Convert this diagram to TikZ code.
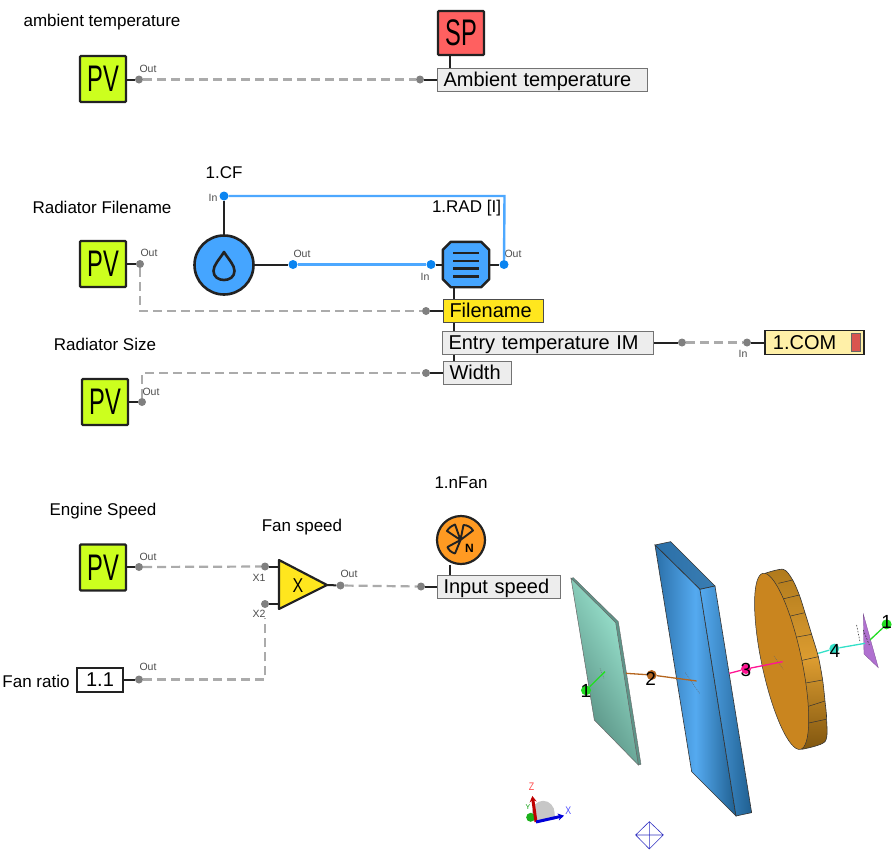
\documentclass[tikz,border=0pt]{standalone}
\usepackage{fontspec}
\setmainfont{Liberation Sans}
\usetikzlibrary{shapes.geometric,arrows.meta}
\definecolor{limeF}{HTML}{CCFF1E}
\definecolor{redF}{HTML}{FF6060}
\definecolor{blueF}{HTML}{45A5FF}
\definecolor{yellowF}{HTML}{FFE61E}
\definecolor{orangeF}{HTML}{FF9A22}
\definecolor{comF}{HTML}{FFF0A8}
\definecolor{comR}{HTML}{D9554F}
\definecolor{ink}{HTML}{222222}
\definecolor{dashG}{HTML}{ABABAB}
\definecolor{portG}{HTML}{808080}
\definecolor{portB}{HTML}{0A84F0}
\definecolor{lineB}{HTML}{4DA8FF}
\definecolor{tealD}{HTML}{4F8579}
\definecolor{tealL}{HTML}{A4F0DA}
\definecolor{tealE}{HTML}{5E9488}
\definecolor{blueD}{HTML}{1F5F90}
\definecolor{blueM}{HTML}{55AAF0}
\definecolor{blueA}{HTML}{2A6FA8}
\definecolor{blueT}{HTML}{3A7DB2}
\definecolor{discF}{HTML}{C9851F}
\definecolor{rimA}{HTML}{B07A1C}
\definecolor{rimB}{HTML}{DC9C30}
\definecolor{rimC}{HTML}{80560F}
\definecolor{jBrown}{HTML}{B5651D}
\definecolor{jPink}{HTML}{FF1493}
\definecolor{jCyan}{HTML}{33E0C8}
\definecolor{jGreen}{HTML}{22DD22}
\definecolor{purp}{HTML}{B070D0}
\newcommand{\fs}[1]{\fontsize{#1}{#1}\selectfont}
\newcommand{\tall}[1]{\scalebox{0.64}[1]{\fs{37}#1}}
\tikzset{
 x=1pt,y=-1pt,
 pvbox/.style={draw=ink,line width=2.4pt,fill=limeF,rounded corners=1pt,minimum width=46pt,minimum height=46pt,inner sep=0pt},
 spbox/.style={pvbox,fill=redF,minimum height=44pt},
 param/.style={draw=black!55,line width=1pt,fill=#1,anchor=west,minimum height=23pt,inner xsep=6pt,inner ysep=0pt,align=left,font=\fs{20},text height=17pt,text depth=4pt},
 port/.style={circle,fill=portG,minimum size=8pt,inner sep=0pt},
 bport/.style={circle,fill=portB,minimum size=9pt,inner sep=0pt},
 stub/.style={draw=ink,line width=2pt},
 sig/.style={draw=dashG,line width=2.2pt,dash pattern=on 9pt off 5pt},
 flow/.style={draw=lineB,line width=2.4pt},
 lbl/.style={font=\fs{17},text=black,inner sep=0pt},
 plbl/.style={font=\fs{10.5},text=black!70,inner sep=0pt},
 ball/.style={circle,minimum size=#1,inner sep=0pt},
 num/.style={font=\fs{19},text=black,inner sep=0pt},
}
\begin{document}
\begin{tikzpicture}
\useasboundingbox (0,0) rectangle (894,849);
% ---------- row 1
\node[lbl] (t1) at (102,22) {ambient temperature};
\node[pvbox] (pv1) at (103,79) {\tall{PV}};
\node[spbox] (sp) at (461,33) {\tall{SP}};
\node[param={black!7},text width=198pt] (amb) at (437,79.5) {Ambient temperature};
\node[port] (p1o) at (139,79.5) {};
\node[port] (p1i) at (420,79.5) {};
\node[plbl] (l1o) at (148,69) {Out};
\draw[stub] (pv1.east |- p1o) -- (p1o);
\draw[stub] (p1i) -- (amb.west);
\draw[stub] ([xshift=-11pt]sp.south) -- ([xshift=-11pt]sp.south |- amb.north);
\draw[sig] (p1o) -- (p1i);
% ---------- row 2
\node[lbl] (tcf) at (224,173) {1.CF};
\node[lbl] (t2) at (102,207) {Radiator Filename};
\node[lbl] (t3) at (105,344) {Radiator Size};
\node[lbl] (trad) at (466.5,208) {1.RAD [I]};
\node[pvbox] (pv2) at (103,264) {\tall{PV}};
\node[pvbox] (pv3) at (105,402) {\tall{PV}};
\node[circle,draw=ink,line width=2.6pt,fill=blueF,minimum size=59pt,inner sep=0pt] (cf) at (224,265) {};
\draw[ink,line width=2.6pt,line join=round] (224,252) .. controls (219,260) and (213.5,265) .. (213.5,271) .. controls (213.5,283) and (234.5,283) .. (234.5,271) .. controls (234.5,265) and (229,260) .. (224,252) -- cycle;
\node[minimum width=46pt,minimum height=45pt,inner sep=0pt] (rad) at (466,264.5) {};
\draw[draw=ink,line width=2.4pt,fill=blueF,line join=round] ([xshift=8pt]rad.north west) -- ([xshift=-8pt]rad.north east) -- ([yshift=-8pt]rad.north east) -- ([yshift=8pt]rad.south east) -- ([xshift=-8pt]rad.south east) -- ([xshift=8pt]rad.south west) -- ([yshift=8pt]rad.south west) -- ([yshift=-8pt]rad.north west) -- cycle;
\foreach \yy in {253,261,268.5,276.5}{\draw[ink,line width=2.2pt] (453,\yy) -- (478.5,\yy);}
\node[param=yellowF,text width=88pt,draw=black!70] (fn) at (443,311) {Filename};
\node[param={black!7},text width=199pt] (entry) at (442,342.5) {Entry temperature IM};
\node[param={black!7},text width=56pt] (width) at (443,373) {Width};
\draw[stub] ([xshift=-12pt]rad.south) -- ([xshift=11pt]fn.north west);
\draw[stub] ([xshift=11pt]fn.south west) -- ([xshift=12pt]entry.north west);
\draw[stub] ([xshift=12pt]entry.south west) -- ([xshift=11pt]width.north west);
\node[bport] (cfin) at (224,196) {};
\node[bport] (cfout) at (293,264.5) {};
\node[bport] (radin) at (431,264.5) {};
\node[bport] (radout) at (504,264.5) {};
\node[plbl] (lcfin) at (213,198) {In};
\node[plbl] (lcfout) at (302,254) {Out};
\node[plbl] (lradin) at (425,277) {In};
\node[plbl] (lradout) at (513,254) {Out};
\draw[stub] (cfin) -- (cf.north);
\draw[stub] (cf.east |- cfout) -- (cfout);
\draw[stub] (radin) -- (rad.west);
\draw[stub] (rad.east) -- (radout);
\draw[flow] (cfout) -- (radin);
\coordinate (corner) at (504.5,196);
\draw[flow] (cfin) -- (corner) -- (radout);
\node[port] (p2o) at (140,264) {};
\node[port] (p2i) at (426,311) {};
\node[plbl] (l2o) at (149,253) {Out};
\draw[stub] (pv2.east) -- (p2o);
\draw[stub] (p2i) -- (fn.west);
\draw[sig] (p2o) |- (p2i);
\node[port] (p3o) at (142,402) {};
\node[port] (p3i) at (426,373) {};
\node[plbl] (l3o) at (151,392) {Out};
\draw[stub] (pv3.east) -- (p3o);
\draw[stub] (p3i) -- (width.west);
\draw[sig] (p3o) |- (p3i);
% COM
\node[draw=ink,line width=1.8pt,fill=comF,anchor=west,minimum width=99pt,minimum height=24pt,inner xsep=8pt,inner ysep=0pt,text width=83pt,align=left,font=\fs{20},text height=17pt,text depth=4pt] (com) at (764,342.5) {1.COM};
\fill[fill=comR,draw=black!60] (851,333) rectangle (860,351.5);
\node[port] (pe1) at (682,342.5) {};
\node[port] (pe2) at (747,342.5) {};
\node[plbl] (lpe) at (743,354) {In};
\draw[stub] (entry.east) -- (pe1);
\draw[stub] (pe2) -- (com.west);
\draw[sig] (pe1) -- (pe2);
% ---------- row 3
\node[lbl] (tn) at (461,483) {1.nFan};
\node[lbl] (t4) at (103,511) {Engine Speed};
\node[lbl] (t5) at (302,527) {Fan speed};
\node[lbl] (t6) at (36,681) {Fan ratio};
\node[pvbox] (pv4) at (103,567.5) {\tall{PV}};
\node[draw=ink,line width=2pt,fill=white,minimum width=46pt,minimum height=24pt,inner sep=0pt,font=\fs{20}] (ratio) at (100,679.5) {1.1};
\coordinate (tria) at (279,560);
\coordinate (trib) at (279,609);
\coordinate (tric) at (327,585);
\draw[ink,line width=2.2pt,fill=yellowF,line join=round] (tria) -- (trib) -- (tric) -- cycle;
\node[inner sep=0pt,font=\fs{20}] (xg) at (298,586) {\scalebox{.8}[1]{X}};
\node[circle,draw=ink,line width=2.2pt,fill=orangeF,minimum size=48pt,inner sep=0pt] (fan) at (461,540) {};
\draw[ink,line width=1.9pt,line join=round] (460.5,540) -- (447,531) .. controls (449,527.5) and (451.5,526) .. (455,524.5) -- cycle (460.5,540) -- (463.5,525) .. controls (467,525) and (471,527) .. (473,530.5) -- cycle (460.5,540) -- (447.5,547) .. controls (448.5,550) and (451.5,552.5) .. (455,553.5) -- cycle;
\node[inner sep=0pt,font=\fs{12}\bfseries] (fann) at (469.5,548.5) {N};
\node[param={black!7},text width=111pt] (inp) at (437,586.5) {Input speed};
\draw[stub] ([xshift=-11pt]fan.south) -- ([xshift=-11pt]fan.south |- inp.north);
\node[port] (p4o) at (139,567) {};
\node[port] (px1) at (265,566.5) {};
\node[port] (px2) at (265,604) {};
\node[port] (pxo) at (340.5,585.5) {};
\node[port] (pni) at (421,586.5) {};
\node[port] (pro) at (139,679.5) {};
\node[plbl] (l4o) at (148,557) {Out};
\node[plbl] (lx1) at (259,578) {X1};
\node[plbl] (lx2) at (259,614) {X2};
\node[plbl] (lxo) at (349,574) {Out};
\node[plbl] (lro) at (148,667) {Out};
\draw[stub] (pv4.east |- p4o) -- (p4o);
\draw[stub] (ratio.east) -- (pro);
\draw[stub] (px1) -- (px1 -| tria);
\draw[stub] (px2) -- (px2 -| tria);
\draw[stub] (tric) -- (pxo);
\draw[stub] (pni) -- (inp.west);
\draw[sig] (p4o) -- (px1);
\draw[sig] (pxo) -- (pni);
\coordinate (turn) at (265,679.5);
\draw[sig] (pro) -- (turn) -- (lx2.south -| turn);
% ---------- 3D view (coordinates in a 3x grid)
\begin{scope}[shift={(500,530)},x=.3333pt,y=-.3333pt]
 % teal plate
 \fill[draw=black!60,line width=.4pt,fill=tealE] (213,145) -- (220,143) -- (355,275) -- (423,703) -- (415,705) -- (345,280) -- cycle;
 \path[left color=tealD,right color=tealL,shading angle=120,draw=black!60,line width=.5pt] (213,145) -- (347,278) -- (415,705) -- (283,570) -- cycle;
 % blue block
 \path[left color=blueA,right color=blueT,draw=black!80,line width=.6pt] (465,45) -- (512,35) -- (645,168) -- (600,178) -- cycle;
 \path[left color=blueA,right color=blueD,middle color=blueM,draw=black!80,line width=.6pt] (465,45) -- (600,178) -- (708,858) -- (575,725) -- cycle;
 \path[left color=blueM,right color=blueD,draw=black!80,line width=.6pt] (600,178) -- (645,168) -- (755,848) -- (708,858) -- cycle;
 % orange disc: rim
 \path[top color=rimA,bottom color=rimC,middle color=rimB,draw=black!80,line width=.6pt] plot[smooth] coordinates {(795,130) (850,118) (878,150) (898,195) (915,248) (935,313) (955,380) (968,450) (975,513) (980,568) (975,635) (905,658)} -- cycle;
 \foreach \a/\b/\c/\d in {835/160/878/150,848/207/898/195,863/260/915/248,880/323/935/313,898/393/955/380,912/460/968/450,922/530/975/513,922/580/978/568}{\draw[black!80,line width=.5pt] (\a,\b) -- (\c,\d);}
 \draw[black!80,line width=.5pt,fill=discF] [shift={(845,394)},rotate=-78] (0,0) ellipse [x radius=90pt,y radius=20pt];
 % purple plate
 \fill[draw=purp!70!black,line width=.3pt,fill=purp] (1090,252) -- (1135,413) -- (1092,372) -- cycle;
 \draw[black!80,line width=.6pt,dash pattern=on 1.5pt off 1.5pt] (1070,285) -- (1080,335);
 \draw[black!80,line width=.6pt,dash pattern=on 1.5pt off 1.5pt] (1090,300) -- (1108,345);
 \draw[black!60,line width=.4pt,dash pattern=on 1pt off 1pt] (300,415) -- (312,445);
 \draw[black!60,line width=.4pt,dash pattern=on 1pt off 1pt] (556,428) -- (600,492);
 \draw[black!60,line width=.4pt,dash pattern=on 1pt off 1pt] (822,378) -- (850,418);
 % joints
 \node[ball=10pt,fill=jGreen] (b1) at (258,481) {};
 \coordinate (e1) at (315,425);
 \draw[jGreen,line width=1.3pt] (b1) -- (e1);
 \node[num] (n1) at (258,483) {1};
 \coordinate (e2a) at (378,430); \coordinate (e2b) at (590,453);
 \node[ball=10pt,fill=jBrown] (b2) at (455,435) {};
 \draw[jBrown,line width=1.3pt] (e2a) -- (b2) -- (e2b);
 \node[num] (n2) at (452,447) {2};
 \coordinate (e3a) at (688,430); \coordinate (e3b) at (848,395);
 \node[ball=10pt,fill=jPink] (b3) at (738,417) {};
 \draw[jPink,line width=1.3pt] (e3a) -- (b3) -- (e3b);
 \node[num] (n3) at (738,420) {3};
 \coordinate (e4a) at (955,370); \coordinate (e4b) at (1095,340);
 \node[ball=10pt,fill=jCyan] (b4) at (1003,356) {};
 \draw[jCyan,line width=1.3pt] (e4a) -- (b4) -- (e4b);
 \node[num] (n4) at (1005,362) {4};
 \coordinate (e5) at (1110,330);
 \node[ball=10pt,fill=jGreen] (b5) at (1160,283) {};
 \draw[jGreen,line width=1.3pt] (e5) -- (b5);
 \node[num] (n5) at (1160,277) {1};
 % triad
 \fill[black!22] (95,850) arc[start angle=180,end angle=0,x radius=11.5pt,y radius=12.5pt] -- (165,868) -- (110,878) -- cycle;
 \node[ball=9pt,fill=jGreen!80!black] (tg) at (92,862) {};
 \coordinate (to) at (108,876);
 \coordinate (tz) at (97,798);
 \coordinate (tx) at (192,857);
 \draw[-{Stealth[length=6pt,width=7pt]},red!75!black,line width=3pt] (to) -- (tz);
 \draw[-{Stealth[length=6pt,width=7pt]},blue!85!black,line width=3pt] (to) -- (tx);
 \node[inner sep=0pt,font=\fs{11},text=red!70!white] (lz) at (95,770) {\scalebox{.8}[1]{Z}};
 \node[inner sep=0pt,font=\fs{11},text=blue!70!white] (lx) at (205,843) {\scalebox{.8}[1]{X}};
 \node[inner sep=0pt,font=\fs{7},text=green!60!black] (ly) at (84,832) {Y};
 % marker
 \draw[blue!70!black!80!white,line width=.6pt] (407,915) -- (448,875) -- (490,915) -- (448,957) -- cycle (407,915) -- (490,915) (448,875) -- (448,957);
\end{scope}
\end{tikzpicture}
\end{document}
